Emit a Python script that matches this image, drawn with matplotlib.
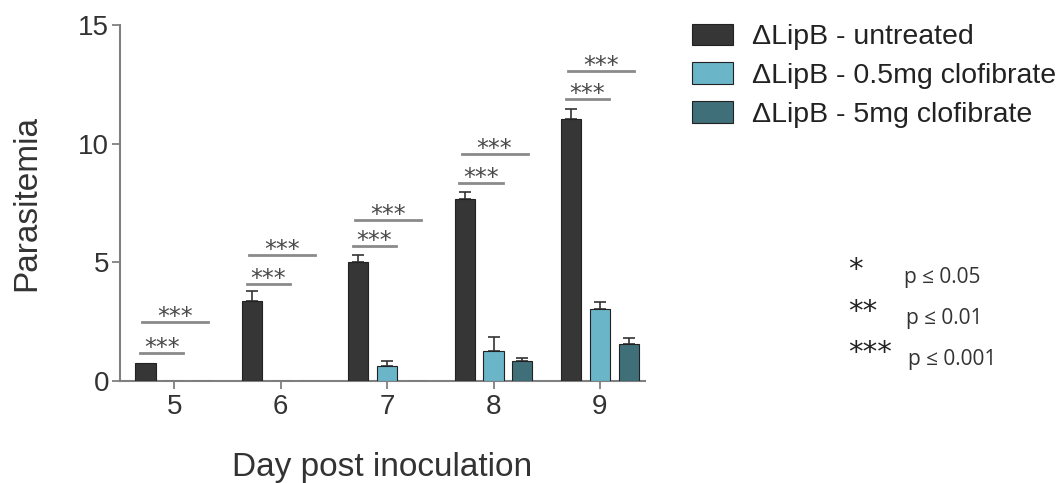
import numpy as np
import matplotlib.pyplot as plt

plt.rcParams['font.family'] = ['Liberation Sans', 'DejaVu Sans']

days = [5, 6, 7, 8, 9]
untreated = [0.73, 3.36, 5.02, 7.66, 11.02]
untreated_err = [0.0, 0.44, 0.28, 0.29, 0.45]
low_dose = [0.0, 0.0, 0.62, 1.25, 3.01]
low_dose_err = [0.0, 0.0, 0.22, 0.61, 0.32]
high_dose = [0.0, 0.0, 0.0, 0.84, 1.55]
high_dose_err = [0.0, 0.0, 0.0, 0.13, 0.24]

labels = ['\u0394LipB - untreated', '\u0394LipB - 0.5mg clofibrate', '\u0394LipB - 5mg clofibrate']
colors = ['#363636', '#6bb5c8', '#3f6f79']

# significance bars: untreated vs 0.5mg (lower) and untreated vs 5mg (upper)
sig_low = [1.17, 4.08, 5.68, 8.34, 11.88]
sig_high = [2.48, 5.30, 6.78, 9.56, 13.06]
sig_text = '***'

key_stars = ['*', '**', '***']
key_text = ['p \u2264 0.05', 'p \u2264 0.01', 'p \u2264 0.001']

fig = plt.figure(figsize=(10.62, 4.83), dpi=100)
ax = fig.add_axes([0.113, 0.212, 0.494, 0.736])

x = np.array(days, dtype=float)
w = 0.19
off = 0.27
series = [(untreated, untreated_err), (low_dose, low_dose_err), (high_dose, high_dose_err)]
for i, (vals, errs) in enumerate(series):
	pos = x + (i - 1) * off
	ax.bar(pos, vals, width=w, color=colors[i], edgecolor='#222222', linewidth=0.8,
		label=labels[i], zorder=3)
	e = np.array(errs)
	m = e > 0
	ax.errorbar(pos[m], np.array(vals)[m], yerr=[np.zeros(m.sum()), e[m]], fmt='none',
		ecolor='#333333', elinewidth=1.2, capsize=4, capthick=1.2, zorder=2)

for d, yl, yh in zip(x, sig_low, sig_high):
	lo = (d - off - 0.05, d + 0.085)
	hi = (d - off - 0.03, d + off + 0.05)
	ax.plot(lo, [yl, yl], color='#8a8a8a', lw=2, zorder=4)
	ax.plot(hi, [yh, yh], color='#8a8a8a', lw=2, zorder=4)
	ax.text(sum(lo) / 2, yl - 0.08, sig_text, ha='center', va='baseline',
		fontsize=17, color='#4a4a4a', family='DejaVu Sans')
	ax.text(sum(hi) / 2, yh - 0.08, sig_text, ha='center', va='baseline',
		fontsize=17, color='#4a4a4a', family='DejaVu Sans')

ax.set_xlim(4.49, 9.42)
ax.set_ylim(0, 15)
ax.set_xticks(days)
ax.set_yticks([0, 5, 10, 15])
ax.tick_params(axis='both', labelsize=20, colors='#333333', length=6, width=1.3)
ax.tick_params(axis='x', color='#808080')
ax.tick_params(axis='y', color='#808080', pad=2)
for s in ['top', 'right']:
	ax.spines[s].set_visible(False)
for s in ['left', 'bottom']:
	ax.spines[s].set_color('#808080')
	ax.spines[s].set_linewidth(1.5)
ax.set_ylabel('Parasitemia', fontsize=24, color='#333333', labelpad=26)
ax.set_xlabel('Day post inoculation', fontsize=24, color='#333333', labelpad=23)

leg = fig.legend(loc='upper left', bbox_to_anchor=(0.6516, 0.951), bbox_transform=fig.transFigure,
	frameon=False, fontsize=20.5, borderpad=0, borderaxespad=0,
	handlelength=1.43, handleheight=0.8, handletextpad=0.66, labelspacing=0.42)
for t in leg.get_texts():
	t.set_color('#222222')

for i, (st, tx) in enumerate(zip(key_stars, key_text)):
	yy = (483 - 267 - i * 41.5) / 483
	fig.text(848 / 1062, yy, st, fontsize=21, color='#222222', va='center_baseline',
		ha='left', family='DejaVu Sans')
	fig.text((904 + i * 2) / 1062, yy - 10 / 483, tx, fontsize=15, color='#333333',
		va='center', ha='left', family=['Open Sans', 'DejaVu Sans'])

fig.savefig('out.png', dpi=100)
